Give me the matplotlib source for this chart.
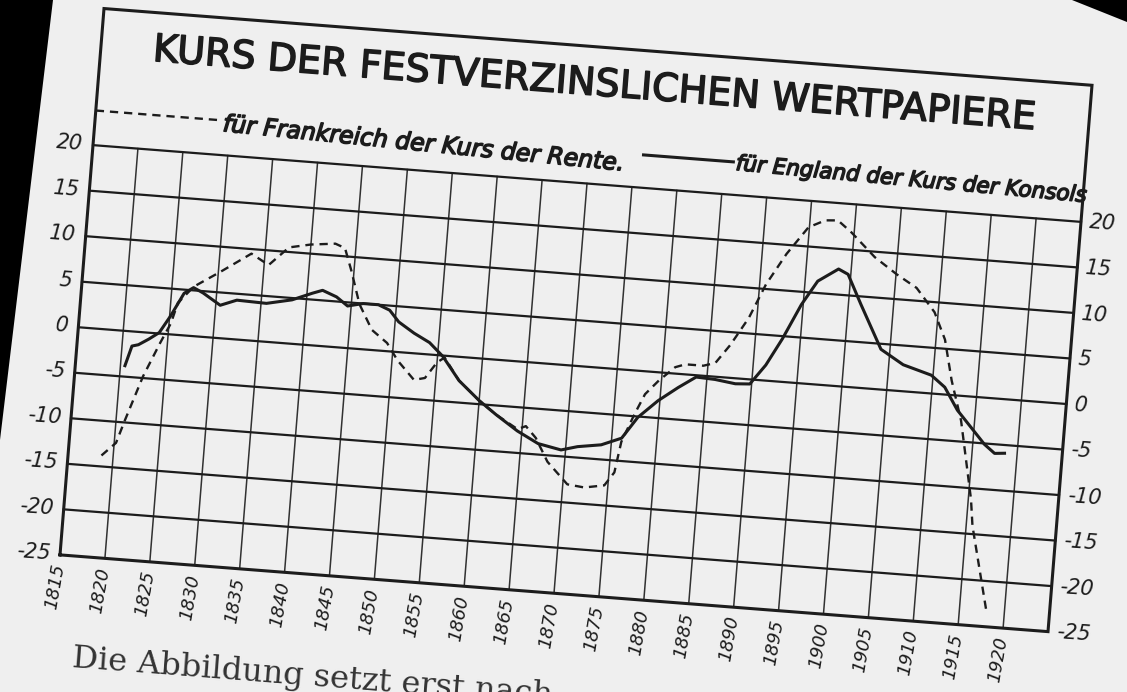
import numpy as np
import matplotlib.pyplot as plt
import matplotlib.patheffects as pe
from matplotlib.transforms import Affine2D
from matplotlib.patches import Polygon

# Kurs der Rente (Frankreich), gestrichelt
fr_years = [1818.7, 1820.2, 1821.0, 1822.6, 1824.2, 1825.2, 1825.8, 1827.4, 1830.3,
            1833.5, 1835.5, 1837.6, 1840.0, 1842.7, 1843.8, 1844.7, 1845.9, 1847.5,
            1849.3, 1850.6, 1852.6, 1853.8, 1855.0, 1855.8, 1857.6, 1860.0, 1862.0,
            1864.5, 1865.4, 1866.6, 1868.1, 1870.5, 1872.4, 1874.6, 1875.6, 1876.1,
            1877.3, 1878.3, 1879.7, 1881.4, 1882.5, 1884.5, 1885.8, 1887.3, 1889.1,
            1890.7, 1892.7, 1894.9, 1896.7, 1898.1, 1899.7, 1902.5, 1905.1, 1907.4,
            1909.6, 1911.0, 1912.1, 1913.5, 1915.3, 1915.7, 1916.8, 1918.0]
fr_vals = [-13.8, -12.3, -9.7, -4.8, -1.0, 1.2, 3.5, 5.4, 7.3,
           9.5, 8.4, 10.5, 11.0, 11.3, 10.9, 8.5, 4.9, 2.2,
           0.9, -0.9, -2.9, -2.6, -0.8, -0.2, -2.6, -4.6, -6.0,
           -7.4, -7.0, -8.2, -10.7, -13.0, -13.2, -12.8, -11.3, -7.9,
           -4.8, -2.5, -0.9, 0.7, 1.1, 1.1, 1.5, 3.6, 6.7,
           10.5, 14.0, 17.1, 18.0, 18.1, 16.9, 14.4, 12.7, 11.4,
           8.9, 6.0, 1.6, -2.7, -11.2, -14.1, -18.5, -23.3]

# Kurs der Konsols (England), ausgezogen
en_years = [1820.5, 1821.1, 1821.8, 1822.9, 1824.0, 1825.1, 1826.4, 1827.4, 1828.5,
            1830.5, 1832.3, 1835.6, 1838.4, 1840.6, 1841.7, 1843.3, 1844.6, 1846.3,
            1848.0, 1849.3, 1850.4, 1852.2, 1854.0, 1855.6, 1857.6, 1860.0, 1862.0,
            1864.5, 1866.9, 1869.5, 1871.3, 1873.9, 1876.1, 1877.7, 1879.8, 1881.9,
            1883.8, 1885.9, 1888.2, 1889.8, 1891.4, 1893.0, 1894.8, 1896.4, 1898.6,
            1899.7, 1901.4, 1904.0, 1906.6, 1909.8, 1911.4, 1913.0, 1914.7, 1916.3,
            1917.5, 1918.6]
en_vals = [-3.8, -1.6, -1.4, -0.7, 0.1, 2.0, 4.6, 5.3, 4.8,
           3.6, 4.3, 4.2, 4.8, 5.7, 6.1, 5.5, 4.6, 5.0,
           5.0, 4.5, 3.3, 2.2, 1.3, -0.1, -2.6, -4.6, -6.0,
           -7.6, -8.8, -9.3, -8.8, -8.4, -7.5, -5.1, -3.1, -1.5,
           -0.2, -0.3, -0.6, -0.5, 1.7, 4.7, 8.6, 11.3, 12.8,
           12.3, 9.1, 4.4, 2.9, 2.0, 0.8, -1.6, -3.4, -5.1,
           -6.0, -5.9]

x_ticks = list(range(1815, 1921, 5))
y_ticks = list(range(-25, 21, 5))

title = 'KURS DER FESTVERZINSLICHEN WERTPAPIERE'
leg_fr = 'für Frankreich der Kurs der Rente.'
leg_en = 'für England der Kurs der Konsols'
body = 'Die Abbildung setzt erst nach'

W, H = 1127, 692
PAPER = '#efefef'
INK = '#1c1c1c'

X0, X1, Y0, Y1 = 1815, 1925, -25, 20
TOP = 35  # obere Rahmenkante (Titelfeld)

# Ecken des Gitters auf der schief gescannten Seite (Pixel)
BL = np.array([58.0, 555.0])
BR = np.array([1050.0, 631.5])
TL = np.array([95.0, 145.0])
TR = np.array([1079.0, 222.0])

ex = ((BR - BL) + (TR - TL)) / 2 / (X1 - X0)
ey = ((TL - BL) + (TR - BR)) / 2 / (Y1 - Y0)
cen = (BL + BR + TL + TR) / 4
xm, ym = (X0 + X1) / 2, (Y0 + Y1) / 2
chart = Affine2D.from_values(ex[0], ex[1], ey[0], ey[1],
                             cen[0] - ex[0] * xm - ey[0] * ym,
                             cen[1] - ex[1] * xm - ey[1] * ym)
rot_x = -np.degrees(np.arctan2(ex[1], ex[0]))


def main():
    fig = plt.figure(figsize=(W / 100, H / 100), dpi=100)
    fig.patch.set_facecolor(PAPER)
    ax = fig.add_axes([0, 0, 1, 1])
    ax.set_xlim(0, W)
    ax.set_ylim(H, 0)
    ax.axis('off')
    tr = chart + ax.transData

    # Scanrand
    ax.add_patch(Polygon([(0, 0), (53, 0), (0, 440)], closed=True, color='black', lw=0))
    ax.add_patch(Polygon([(1072, 0), (W, 0), (W, 22)], closed=True, color='black', lw=0))

    # Gitter
    for v in y_ticks[1:]:
        ax.plot([X0, X1], [v, v], transform=tr, color=INK, lw=1.6)
    for yr in x_ticks[1:]:
        ax.plot([yr, yr], [Y0, Y1], transform=tr, color=INK, lw=1.1, alpha=0.9)
    ax.plot([X0, X1, X1, X0, X0], [Y0, Y0, TOP, TOP, Y0], transform=tr,
            color=INK, lw=2.2, solid_joinstyle='miter')

    # Kurven
    ax.plot(en_years, en_vals, transform=tr, color=INK, lw=2.2, solid_joinstyle='round')
    ax.plot(fr_years, fr_vals, transform=tr, color=INK, lw=1.7, linestyle=(0, (3.5, 2.5)))

    # Achsenbeschriftung
    tick_font = dict(fontstyle='italic', color=INK, rotation_mode='anchor')
    for v in y_ticks:
        ax.text(X0 - 1.1, v, str(v), transform=tr, ha='right', va='center',
                rotation=rot_x, fontsize=15, **tick_font)
        ax.text(X1 + 0.9, v, str(v), transform=tr, ha='left', va='center',
                rotation=rot_x, fontsize=15, **tick_font)
    for yr in x_ticks:
        ax.text(yr, Y0 - 1.0, str(yr), transform=tr, ha='right', va='center',
                rotation=80, fontsize=13, **tick_font)

    # Titel und Legende
    thick = [pe.withStroke(linewidth=1.1, foreground=INK)]
    ax.text(1870, 30.8, title, transform=tr, ha='center', va='center',
            rotation=rot_x, rotation_mode='anchor', fontsize=27.5, color=INK,
            path_effects=thick)
    ax.plot([X0, 1828.8], [23.8, 23.8], transform=tr, color=INK, lw=1.7,
            linestyle=(0, (3.5, 2.5)))
    ax.text(1829.2, 23.4, leg_fr, transform=tr, ha='left', va='center',
            rotation=rot_x - 1.2, fontsize=17, path_effects=thick, **tick_font)
    ax.plot([1876, 1886], [23.6, 23.6], transform=tr, color=INK, lw=2.2)
    ax.text(1886.3, 23.4, leg_en, transform=tr, ha='left', va='center',
            rotation=rot_x - 0.8, fontsize=15.5, path_effects=thick, **tick_font)

    # Fliesstext unter der Abbildung
    ax.text(72, 667, body, ha='left', va='baseline', rotation=rot_x,
            rotation_mode='anchor', fontsize=23, family='DejaVu Serif', color='#333333')

    fig.savefig('out.png', dpi=100, facecolor=PAPER)


if __name__ == '__main__':
    main()
